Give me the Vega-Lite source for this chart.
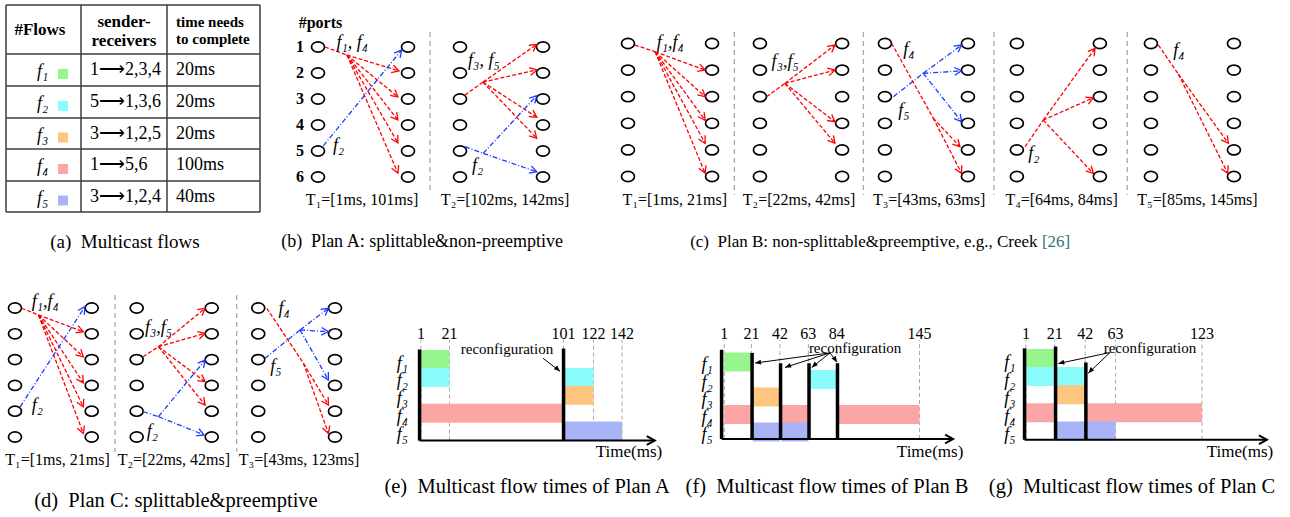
{
"$schema": "https://vega.github.io/schema/vega-lite/v6.json",
"usermeta": {"embedOptions": {"actions": false}},
"padding": 0,
"background": "white",
"spacing": 0,
"config": {"view": {"stroke": null}, "font": "Liberation Serif", "text": {"font": "Liberation Serif", "color": "black"}},
"resolve": {"scale": {"x": "independent", "y": "independent", "color": "independent", "strokeDash": "independent"}},
"datasets": {
"A_grid": [
{"x":0,"x2":3,"y":0,"y2":0},{"x":0,"x2":3,"y":1,"y2":1},{"x":0,"x2":3,"y":2,"y2":2},{"x":0,"x2":3,"y":3,"y2":3},{"x":0,"x2":3,"y":4,"y2":4},{"x":0,"x2":3,"y":5,"y2":5},{"x":0,"x2":3,"y":6,"y2":6},
{"x":0,"x2":0,"y":0,"y2":6},{"x":1,"x2":1,"y":0,"y2":6},{"x":2,"x2":2,"y":0,"y2":6},{"x":3,"x2":3,"y":0,"y2":6}],
"A_text": [
{"role":"head","x":0.453,"y":0.5,"text":"#Flows"},
{"role":"head","x":1.5,"y":0.347,"text":"sender-"},
{"role":"head","x":1.5,"y":0.735,"text":"receivers"},
{"role":"head2","x":2,"y":0.34,"text":"time needs"},
{"role":"head2","x":2,"y":0.70,"text":"to complete"},
{"role":"cap","x":1.51,"y":6.97,"text":"(a)\u00a0 Multicast flows"}],
"A_cells": [
{"kind":"label","flow":"f1","x":0.487,"y":1.5,"text":"f₁"},{"kind":"swatch","flow":"f1","x":0.76,"y":1.5},{"kind":"cell","flow":"f1","x":1,"y":1.5,"text":"1⟶2,3,4"},{"kind":"cell","flow":"f1","x":2,"y":1.5,"text":"20ms"},
{"kind":"label","flow":"f2","x":0.487,"y":2.5,"text":"f₂"},{"kind":"swatch","flow":"f2","x":0.76,"y":2.5},{"kind":"cell","flow":"f2","x":1,"y":2.5,"text":"5⟶1,3,6"},{"kind":"cell","flow":"f2","x":2,"y":2.5,"text":"20ms"},
{"kind":"label","flow":"f3","x":0.487,"y":3.5,"text":"f₃"},{"kind":"swatch","flow":"f3","x":0.76,"y":3.5},{"kind":"cell","flow":"f3","x":1,"y":3.5,"text":"3⟶1,2,5"},{"kind":"cell","flow":"f3","x":2,"y":3.5,"text":"20ms"},
{"kind":"label","flow":"f4","x":0.487,"y":4.5,"text":"f₄"},{"kind":"swatch","flow":"f4","x":0.76,"y":4.5},{"kind":"cell","flow":"f4","x":1,"y":4.5,"text":"1⟶5,6"},{"kind":"cell","flow":"f4","x":2,"y":4.5,"text":"100ms"},
{"kind":"label","flow":"f5","x":0.487,"y":5.5,"text":"f₅"},{"kind":"swatch","flow":"f5","x":0.76,"y":5.5},{"kind":"cell","flow":"f5","x":1,"y":5.5,"text":"3⟶1,2,4"},{"kind":"cell","flow":"f5","x":2,"y":5.5,"text":"40ms"}],
"B_nodes": [
{"x":1.846,"y":1},{"x":1.846,"y":2},{"x":1.846,"y":3},{"x":1.846,"y":4},{"x":1.846,"y":5},{"x":1.846,"y":6},
{"x":5.308,"y":1},{"x":5.308,"y":2},{"x":5.308,"y":3},{"x":5.308,"y":4},{"x":5.308,"y":5},{"x":5.308,"y":6},
{"x":7.308,"y":1},{"x":7.308,"y":2},{"x":7.308,"y":3},{"x":7.308,"y":4},{"x":7.308,"y":5},{"x":7.308,"y":6},
{"x":10.5,"y":1},{"x":10.5,"y":2},{"x":10.5,"y":3},{"x":10.5,"y":4},{"x":10.5,"y":5},{"x":10.5,"y":6}],
"B_sep": [{"x":6.154,"y":0.42,"y2":6.6}],
"B_edges": [
{"x":2.115,"y":1.0,"x2":2.96,"y2":1.31,"grp":"first","head":false},
{"x":2.96,"y":1.31,"x2":4.96,"y2":1.92,"grp":"first","head":true},
{"x":2.96,"y":1.31,"x2":4.92,"y2":2.92,"grp":"first","head":true},
{"x":2.96,"y":1.31,"x2":4.92,"y2":3.81,"grp":"first","head":true},
{"x":2.96,"y":1.31,"x2":4.92,"y2":4.69,"grp":"first","head":true},
{"x":2.96,"y":1.31,"x2":4.92,"y2":5.85,"grp":"first","head":true},
{"x":2.05,"y":4.80,"x2":5.06,"y2":1.12,"grp":"second","head":true},
{"x":7.5,"y":2.85,"x2":8.19,"y2":2.35,"grp":"first","head":false},
{"x":8.19,"y":2.35,"x2":10.26,"y2":0.9,"grp":"first","head":true},
{"x":8.19,"y":2.35,"x2":10.26,"y2":1.88,"grp":"first","head":true},
{"x":8.19,"y":2.35,"x2":10.26,"y2":3.7,"grp":"first","head":true},
{"x":8.19,"y":2.35,"x2":10.26,"y2":4.51,"grp":"first","head":true},
{"x":7.5,"y":4.83,"x2":8.2,"y2":5.09,"grp":"second","head":false},
{"x":8.2,"y":5.09,"x2":10.26,"y2":2.87,"grp":"second","head":true},
{"x":8.2,"y":5.09,"x2":10.26,"y2":5.8,"grp":"second","head":true}],
"B_text": [
{"role":"port","x":1.154,"y":1,"text":"1"},{"role":"port","x":1.154,"y":2,"text":"2"},{"role":"port","x":1.154,"y":3,"text":"3"},
{"role":"port","x":1.154,"y":4,"text":"4"},{"role":"port","x":1.154,"y":5,"text":"5"},{"role":"port","x":1.154,"y":6,"text":"6"},
{"role":"port","x":1.94,"y":0.08,"text":"#ports"},
{"role":"slot","x":3.54,"y":6.88,"text":"T₁=[1ms, 101ms]"},
{"role":"slot","x":9.04,"y":6.88,"text":"T₂=[102ms, 142ms]"},
{"role":"flow","x":2.56,"y":0.85,"text":"f₁, f₄"},
{"role":"flow","x":2.42,"y":4.81,"text":"f₂"},
{"role":"flow","x":7.62,"y":1.54,"text":"f₃, f₅"},
{"role":"flow","x":7.77,"y":5.58,"text":"f₂"},
{"role":"cap","x":5.85,"y":8.5,"text":"(b)\u00a0 Plan A: splittable&non-preemptive"}],
"C_nodes": [
{"x":1.24,"y":1},{"x":1.24,"y":2},{"x":1.24,"y":3},{"x":1.24,"y":4},{"x":1.24,"y":5},{"x":1.24,"y":6},
{"x":4.40,"y":1},{"x":4.40,"y":2},{"x":4.40,"y":3},{"x":4.40,"y":4},{"x":4.40,"y":5},{"x":4.40,"y":6},
{"x":6.20,"y":1},{"x":6.20,"y":2},{"x":6.20,"y":3},{"x":6.20,"y":4},{"x":6.20,"y":5},{"x":6.20,"y":6},
{"x":9.29,"y":1},{"x":9.29,"y":2},{"x":9.29,"y":3},{"x":9.29,"y":4},{"x":9.29,"y":5},{"x":9.29,"y":6},
{"x":10.90,"y":1},{"x":10.90,"y":2},{"x":10.90,"y":3},{"x":10.90,"y":4},{"x":10.90,"y":5},{"x":10.90,"y":6},
{"x":14.02,"y":1},{"x":14.02,"y":2},{"x":14.02,"y":3},{"x":14.02,"y":4},{"x":14.02,"y":5},{"x":14.02,"y":6},
{"x":15.86,"y":1},{"x":15.86,"y":2},{"x":15.86,"y":3},{"x":15.86,"y":4},{"x":15.86,"y":5},{"x":15.86,"y":6},
{"x":18.98,"y":1},{"x":18.98,"y":2},{"x":18.98,"y":3},{"x":18.98,"y":4},{"x":18.98,"y":5},{"x":18.98,"y":6},
{"x":20.90,"y":1},{"x":20.90,"y":2},{"x":20.90,"y":3},{"x":20.90,"y":4},{"x":20.90,"y":5},{"x":20.90,"y":6},
{"x":24.02,"y":1},{"x":24.02,"y":2},{"x":24.02,"y":3},{"x":24.02,"y":4},{"x":24.02,"y":5},{"x":24.02,"y":6}],
"C_sep": [{"x":5.24,"y":0.57,"y2":6.7},{"x":10.09,"y":0.57,"y2":6.7},{"x":15.0,"y":0.57,"y2":6.7},{"x":20.01,"y":0.57,"y2":6.7}],
"C_edges": [
{"x":1.5,"y":1.06,"x2":2.26,"y2":1.31,"grp":"first","head":false},
{"x":2.26,"y":1.31,"x2":4.14,"y2":2.0,"grp":"first","head":true},
{"x":2.26,"y":1.31,"x2":4.14,"y2":3.0,"grp":"first","head":true},
{"x":2.26,"y":1.31,"x2":4.14,"y2":3.88,"grp":"first","head":true},
{"x":2.26,"y":1.31,"x2":4.14,"y2":4.75,"grp":"first","head":true},
{"x":2.26,"y":1.31,"x2":4.14,"y2":5.88,"grp":"first","head":true},
{"x":6.45,"y":3.0,"x2":7.14,"y2":2.5,"grp":"first","head":false},
{"x":7.14,"y":2.5,"x2":9.02,"y2":1.06,"grp":"first","head":true},
{"x":7.14,"y":2.5,"x2":9.02,"y2":2.0,"grp":"first","head":true},
{"x":7.14,"y":2.5,"x2":9.02,"y2":3.94,"grp":"first","head":true},
{"x":7.14,"y":2.5,"x2":9.02,"y2":4.75,"grp":"first","head":true},
{"x":11.15,"y":0.99,"x2":12.71,"y2":3.8,"grp":"first","head":false},
{"x":12.71,"y":3.8,"x2":13.72,"y2":4.88,"grp":"first","head":true},
{"x":12.71,"y":3.8,"x2":13.78,"y2":5.88,"grp":"first","head":true},
{"x":11.22,"y":3.0,"x2":12.34,"y2":2.12,"grp":"second","head":false},
{"x":12.34,"y":2.12,"x2":13.78,"y2":1.06,"grp":"second","head":true},
{"x":12.34,"y":2.12,"x2":13.78,"y2":2.03,"grp":"second","head":true},
{"x":12.34,"y":2.12,"x2":13.78,"y2":3.94,"grp":"second","head":true},
{"x":16.17,"y":4.88,"x2":16.85,"y2":3.88,"grp":"first","head":false},
{"x":16.85,"y":3.88,"x2":18.8,"y2":1.18,"grp":"first","head":true},
{"x":16.85,"y":3.88,"x2":18.73,"y2":3.04,"grp":"first","head":true},
{"x":16.85,"y":3.88,"x2":18.73,"y2":5.88,"grp":"first","head":true},
{"x":21.18,"y":1.06,"x2":21.93,"y2":2.15,"grp":"first","head":false},
{"x":21.93,"y":2.15,"x2":23.81,"y2":4.75,"grp":"first","head":true},
{"x":21.93,"y":2.15,"x2":23.79,"y2":5.88,"grp":"first","head":true}],
"C_text": [
{"role":"slot","x":3.0,"y":6.88,"text":"T₁=[1ms, 21ms]"},
{"role":"slot","x":7.67,"y":6.88,"text":"T₂=[22ms, 42ms]"},
{"role":"slot","x":12.56,"y":6.88,"text":"T₃=[43ms, 63ms]"},
{"role":"slot","x":17.54,"y":6.88,"text":"T₄=[64ms, 84ms]"},
{"role":"slot","x":22.65,"y":6.88,"text":"T₅=[85ms, 145ms]"},
{"role":"flow","x":2.32,"y":0.99,"text":"f₁,f₄"},
{"role":"flow","x":6.64,"y":1.68,"text":"f₃,f₅"},
{"role":"flow","x":11.59,"y":1.24,"text":"f₄"},
{"role":"flow","x":11.4,"y":3.54,"text":"f₅"},
{"role":"flow","x":16.29,"y":5.15,"text":"f₂"},
{"role":"flow","x":21.74,"y":1.28,"text":"f₄"},
{"role":"cap","x":16.64,"y":8.46,"text":"(c)\u00a0 Plan B: non-splittable&preemptive, e.g., Creek"},
{"role":"cite","x":16.8,"y":8.46,"text":"[26]"}],
"D_nodes": [
{"x":0.581,"y":1},{"x":0.581,"y":2},{"x":0.581,"y":3},{"x":0.581,"y":4},{"x":0.581,"y":5},{"x":0.581,"y":6},
{"x":3.554,"y":1},{"x":3.554,"y":2},{"x":3.554,"y":3},{"x":3.554,"y":4},{"x":3.554,"y":5},{"x":3.554,"y":6},
{"x":5.298,"y":1},{"x":5.298,"y":2},{"x":5.298,"y":3},{"x":5.298,"y":4},{"x":5.298,"y":5},{"x":5.298,"y":6},
{"x":8.205,"y":1},{"x":8.205,"y":2},{"x":8.205,"y":3},{"x":8.205,"y":4},{"x":8.205,"y":5},{"x":8.205,"y":6},
{"x":10.01,"y":1},{"x":10.01,"y":2},{"x":10.01,"y":3},{"x":10.01,"y":4},{"x":10.01,"y":5},{"x":10.01,"y":6},
{"x":12.984,"y":1},{"x":12.984,"y":2},{"x":12.984,"y":3},{"x":12.984,"y":4},{"x":12.984,"y":5},{"x":12.984,"y":6}],
"D_sep": [{"x":4.457,"y":0.5,"y2":6.57},{"x":9.174,"y":0.5,"y2":6.57}],
"D_edges": [
{"x":0.84,"y":1.01,"x2":1.49,"y2":1.27,"grp":"first","head":false},
{"x":1.49,"y":1.27,"x2":3.23,"y2":1.92,"grp":"first","head":true},
{"x":1.49,"y":1.27,"x2":3.23,"y2":2.89,"grp":"first","head":true},
{"x":1.49,"y":1.27,"x2":3.23,"y2":3.9,"grp":"first","head":true},
{"x":1.49,"y":1.27,"x2":3.23,"y2":4.83,"grp":"first","head":true},
{"x":1.49,"y":1.27,"x2":3.23,"y2":5.86,"grp":"first","head":true},
{"x":0.78,"y":4.83,"x2":3.29,"y2":0.95,"grp":"second","head":true},
{"x":5.55,"y":2.89,"x2":6.14,"y2":2.5,"grp":"first","head":false},
{"x":6.14,"y":2.5,"x2":7.95,"y2":1.01,"grp":"first","head":true},
{"x":6.14,"y":2.5,"x2":7.95,"y2":1.98,"grp":"first","head":true},
{"x":6.14,"y":2.5,"x2":7.95,"y2":3.86,"grp":"first","head":true},
{"x":6.14,"y":2.5,"x2":7.95,"y2":4.76,"grp":"first","head":true},
{"x":5.55,"y":5.02,"x2":6.14,"y2":5.21,"grp":"second","head":false},
{"x":6.14,"y":5.21,"x2":7.95,"y2":3.02,"grp":"second","head":true},
{"x":6.14,"y":5.21,"x2":7.91,"y2":5.92,"grp":"second","head":true},
{"x":10.34,"y":1.01,"x2":11.76,"y2":3.14,"grp":"first","head":false},
{"x":11.76,"y":3.14,"x2":12.73,"y2":4.76,"grp":"first","head":true},
{"x":11.76,"y":3.14,"x2":12.73,"y2":5.86,"grp":"first","head":true},
{"x":10.27,"y":2.95,"x2":11.63,"y2":1.85,"grp":"second","head":false},
{"x":11.63,"y":1.85,"x2":12.73,"y2":1.01,"grp":"second","head":true},
{"x":11.63,"y":1.85,"x2":12.73,"y2":1.92,"grp":"second","head":true},
{"x":11.63,"y":1.85,"x2":12.73,"y2":3.79,"grp":"second","head":true}],
"D_text": [
{"role":"slot","x":2.23,"y":6.89,"text":"T₁=[1ms, 21ms]"},
{"role":"slot","x":6.74,"y":6.89,"text":"T₂=[22ms, 42ms]"},
{"role":"slot","x":11.59,"y":6.89,"text":"T₃=[43ms, 123ms]"},
{"role":"flow","x":1.23,"y":0.77,"text":"f₁,f₄"},
{"role":"flow","x":1.23,"y":4.8,"text":"f₂"},
{"role":"flow","x":5.62,"y":1.79,"text":"f₃,f₅"},
{"role":"flow","x":5.69,"y":5.79,"text":"f₂"},
{"role":"flow","x":10.79,"y":1.04,"text":"f₄"},
{"role":"flow","x":10.47,"y":3.28,"text":"f₅"},
{"role":"cap","x":6.82,"y":8.48,"text":"(d)\u00a0 Plan C: splittable&preemptive"}],
"E_grid": [{"ms":1,"lane":0.47,"lane2":6.1},{"ms":21,"lane":0.47,"lane2":6.1},{"ms":101,"lane":0.47,"lane2":6.1},{"ms":122,"lane":0.47,"lane2":6.1},{"ms":142,"lane":0.47,"lane2":6.1}],
"E_bars": [
{"flow":"f1","ms":1,"ms2":21,"lane":5},{"flow":"f2","ms":1,"ms2":21,"lane":4},{"flow":"f4","ms":1,"ms2":101,"lane":2},
{"flow":"f2","ms":102,"ms2":122,"lane":4},{"flow":"f3","ms":102,"ms2":122,"lane":3},{"flow":"f5","ms":102,"ms2":142,"lane":1}],
"E_rules": [{"ms":0,"lane":0.47,"lane2":5.56},{"ms":101,"lane":0.47,"lane2":5.61}],
"E_axis": [{"ms":0,"ms2":165,"lane":0.47}],
"E_arrows": [{"ms":86.6,"lane":5.07,"ms2":98.5,"lane2":4.34}],
"E_text": [
{"role":"tick","ms":1,"lane":6.45,"text":"1"},{"role":"tick","ms":21,"lane":6.45,"text":"21"},{"role":"tick","ms":101,"lane":6.45,"text":"101"},
{"role":"tick","ms":122,"lane":6.45,"text":"122"},{"role":"tick","ms":142,"lane":6.45,"text":"142"},
{"role":"flow","ms":-12,"lane":5,"text":"f₁"},{"role":"flow","ms":-12,"lane":4,"text":"f₂"},{"role":"flow","ms":-12,"lane":3,"text":"f₃"},
{"role":"flow","ms":-12,"lane":2,"text":"f₄"},{"role":"flow","ms":-12,"lane":1,"text":"f₅"},
{"role":"recon","ms":61.3,"lane":5.56,"text":"reconfiguration"},
{"role":"time","ms":146.9,"lane":-0.17,"text":"Time(ms)"},
{"role":"cap","ms":75.4,"lane":-2.13,"text":"(e)\u00a0 Multicast flow times of Plan A"}],
"F_grid": [{"ms":1,"lane":0.6,"lane2":6.25},{"ms":21,"lane":0.6,"lane2":6.25},{"ms":42,"lane":0.6,"lane2":6.25},{"ms":63,"lane":0.6,"lane2":6.25},{"ms":84,"lane":0.6,"lane2":6.25},{"ms":145,"lane":0.6,"lane2":6.25}],
"F_bars": [
{"flow":"f1","ms":1,"ms2":21,"lane":5},{"flow":"f4","ms":1,"ms2":21,"lane":2},
{"flow":"f3","ms":22,"ms2":42,"lane":3},{"flow":"f5","ms":22,"ms2":42,"lane":1},
{"flow":"f4","ms":43,"ms2":63,"lane":2},{"flow":"f5","ms":43,"ms2":63,"lane":1},
{"flow":"f2","ms":64,"ms2":84,"lane":4},{"flow":"f4","ms":85,"ms2":145,"lane":2}],
"F_rules": [{"ms":-1,"lane":0.6,"lane2":5.7},{"ms":21.5,"lane":0.6,"lane2":5.52},{"ms":42.5,"lane":0.6,"lane2":4.93},{"ms":63.5,"lane":0.6,"lane2":4.93},{"ms":84.5,"lane":0.6,"lane2":4.93}],
"F_axis": [{"ms":-1,"ms2":169.8,"lane":0.6}],
"F_arrows": [
{"ms":79.0,"lane":5.52,"ms2":23.7,"lane2":4.94},{"ms":79.0,"lane":5.52,"ms2":45.8,"lane2":4.69},
{"ms":79.0,"lane":5.52,"ms2":65.5,"lane2":4.69},{"ms":79.0,"lane":5.52,"ms2":84.0,"lane2":4.99}],
"F_text": [
{"role":"tick","ms":1,"lane":6.6,"text":"1"},{"role":"tick","ms":21,"lane":6.6,"text":"21"},{"role":"tick","ms":42,"lane":6.6,"text":"42"},
{"role":"tick","ms":63,"lane":6.6,"text":"63"},{"role":"tick","ms":84,"lane":6.6,"text":"84"},{"role":"tick","ms":145,"lane":6.6,"text":"145"},
{"role":"flow","ms":-11.75,"lane":5,"text":"f₁"},{"role":"flow","ms":-11.75,"lane":4,"text":"f₂"},{"role":"flow","ms":-11.75,"lane":3,"text":"f₃"},
{"role":"flow","ms":-11.75,"lane":2,"text":"f₄"},{"role":"flow","ms":-11.75,"lane":1,"text":"f₅"},
{"role":"recon","ms":97.5,"lane":5.8,"text":"reconfiguration"},
{"role":"time","ms":152.8,"lane":-0.15,"text":"Time(ms)"},
{"role":"cap","ms":76.8,"lane":-2.15,"text":"(f)\u00a0 Multicast flow times of Plan B"}],
"G_grid": [{"ms":1,"lane":0.51,"lane2":6.04},{"ms":21,"lane":0.51,"lane2":6.04},{"ms":42,"lane":0.51,"lane2":6.04},{"ms":63,"lane":0.51,"lane2":6.04},{"ms":123,"lane":0.51,"lane2":6.04}],
"G_bars": [
{"flow":"f1","ms":1,"ms2":21,"lane":5},{"flow":"f2","ms":1,"ms2":21,"lane":4},{"flow":"f4","ms":1,"ms2":21,"lane":2},
{"flow":"f2","ms":22,"ms2":42,"lane":4},{"flow":"f3","ms":22,"ms2":42,"lane":3},{"flow":"f5","ms":22,"ms2":42,"lane":1},
{"flow":"f4","ms":43,"ms2":123,"lane":2},{"flow":"f5","ms":43,"ms2":63,"lane":1}],
"G_rules": [{"ms":0,"lane":0.51,"lane2":5.56},{"ms":21.5,"lane":0.51,"lane2":5.66},{"ms":42.5,"lane":0.51,"lane2":4.78}],
"G_axis": [{"ms":0,"ms2":168,"lane":0.51}],
"G_arrows": [{"ms":59.2,"lane":5.33,"ms2":23.4,"lane2":4.72},{"ms":59.2,"lane":5.33,"ms2":44.2,"lane2":4.19}],
"G_text": [
{"role":"tick","ms":1,"lane":6.38,"text":"1"},{"role":"tick","ms":21,"lane":6.38,"text":"21"},{"role":"tick","ms":42,"lane":6.38,"text":"42"},
{"role":"tick","ms":63,"lane":6.38,"text":"63"},{"role":"tick","ms":123,"lane":6.38,"text":"123"},
{"role":"flow","ms":-10.1,"lane":5,"text":"f₁"},{"role":"flow","ms":-10.1,"lane":4,"text":"f₂"},{"role":"flow","ms":-10.1,"lane":3,"text":"f₃"},
{"role":"flow","ms":-10.1,"lane":2,"text":"f₄"},{"role":"flow","ms":-10.1,"lane":1,"text":"f₅"},
{"role":"recon","ms":86.9,"lane":5.6,"text":"reconfiguration"},
{"role":"time","ms":149.3,"lane":-0.17,"text":"Time(ms)"},
{"role":"cap","ms":74.5,"lane":-2.11,"text":"(g)\u00a0 Multicast flow times of Plan C"}]
},
"vconcat": [
{"hconcat": [
{"width": 270, "height": 262,
 "encoding": {"x": {"field":"x","type":"quantitative","scale":{"domain":[0,1,2,3],"range":[6,81,167,260],"zero":false,"nice":false},"axis":null},
              "y": {"field":"y","type":"quantitative","scale":{"domain":[0,1,2,3,4,5,6],"range":[5,54,86,118,149,181,212],"zero":false,"nice":false},"axis":null}},
 "layer": [
  {"data":{"name":"A_grid"},"mark":{"type":"rule","color":"#3c3c3c","strokeWidth":1.5},"encoding":{"x2":{"field":"x2"},"y2":{"field":"y2"}}},
  {"data":{"name":"A_text"},"transform":[{"filter":"datum.role=='head'"}],"mark":{"type":"text","fontSize":17,"fontWeight":"bold","align":"center","baseline":"middle"},"encoding":{"text":{"field":"text"}}},
  {"data":{"name":"A_text"},"transform":[{"filter":"datum.role=='head2'"}],"mark":{"type":"text","fontSize":15,"fontWeight":"bold","align":"left","baseline":"middle","dx":9},"encoding":{"text":{"field":"text"}}},
  {"data":{"name":"A_cells"},"transform":[{"filter":"datum.kind=='label'"}],"mark":{"type":"text","fontSize":18,"fontStyle":"italic","align":"center","baseline":"middle","dy":2},"encoding":{"text":{"field":"text"}}},
  {"data":{"name":"A_cells"},"transform":[{"filter":"datum.kind=='swatch'"}],"mark":{"type":"point","shape":"square","size":100,"filled":true,"opacity":1,"yOffset":4},"encoding":{"color":{"field":"flow","type":"nominal","scale":{"domain":["f1","f2","f3","f4","f5"],"range":["#96f58c","#8afcfc","#fdc57f","#fca5a5","#a9b4f7"]},"legend":null}}},
  {"data":{"name":"A_cells"},"transform":[{"filter":"datum.kind=='cell'"}],"mark":{"type":"text","fontSize":18,"align":"left","baseline":"middle","dx":9},"encoding":{"text":{"field":"text"}}},
  {"data":{"name":"A_text"},"transform":[{"filter":"datum.role=='cap'"}],"mark":{"type":"text","fontSize":19,"align":"center","baseline":"middle"},"encoding":{"text":{"field":"text"}}}
 ]},
{"width": 325, "height": 262,
 "encoding": {"x": {"field":"x","type":"quantitative","scale":{"domain":[0,10],"range":[0,260],"zero":false,"nice":false},"axis":null},
              "y": {"field":"y","type":"quantitative","scale":{"domain":[1,6],"range":[47,177],"zero":false,"nice":false},"axis":null}},
 "layer": [
  {"data":{"name":"B_sep"},"mark":{"type":"rule","color":"#a8a8a8","strokeWidth":1.3,"strokeDash":[5,4]},"encoding":{"y2":{"field":"y2"}}},
  {"data":{"name":"B_nodes"},"mark":{"type":"point","shape":"M-1,0A1,0.78,0,1,1,1,0A1,0.78,0,1,1,-1,0Z","size":169,"filled":false,"color":"black","strokeWidth":1.7,"opacity":1}},
  {"data":{"name":"B_edges"},"mark":{"type":"rule","strokeWidth":1.3},"encoding":{"x2":{"field":"x2"},"y2":{"field":"y2"},
     "color":{"field":"grp","type":"nominal","scale":{"domain":["first","second"],"range":["#ff0000","#1a3cff"]},"legend":null},
     "strokeDash":{"field":"grp","type":"nominal","scale":{"domain":["first","second"],"range":[[4,2],[5,2,1,2]]},"legend":null}}},
  {"data":{"name":"B_edges"},"transform":[{"filter":"datum.head"},{"calculate":"atan2(datum.y2-datum.y, datum.x2-datum.x)*180/PI","as":"ang"}],
   "mark":{"type":"point","shape":"M-1,-0.55L0,0L-1,0.55","size":196,"filled":false,"strokeWidth":1.3,"opacity":1},
   "encoding":{"x":{"field":"x2","type":"quantitative","scale":{"domain":[0,10],"range":[0,260],"zero":false,"nice":false},"axis":null},
               "y":{"field":"y2","type":"quantitative","scale":{"domain":[1,6],"range":[47,177],"zero":false,"nice":false},"axis":null},
               "angle":{"field":"ang","type":"quantitative","scale":null},
               "color":{"field":"grp","type":"nominal","scale":{"domain":["first","second"],"range":["#ff0000","#1a3cff"]},"legend":null}}},
  {"data":{"name":"B_text"},"transform":[{"filter":"datum.role=='port'"}],"mark":{"type":"text","fontSize":16,"fontWeight":"bold","align":"center","baseline":"middle"},"encoding":{"text":{"field":"text"}}},
  {"data":{"name":"B_text"},"transform":[{"filter":"datum.role=='flow'"}],"mark":{"type":"text","fontSize":18,"fontStyle":"italic","align":"left","baseline":"middle"},"encoding":{"text":{"field":"text"}}},
  {"data":{"name":"B_text"},"transform":[{"filter":"datum.role=='slot'"}],"mark":{"type":"text","fontSize":16,"align":"center","baseline":"middle"},"encoding":{"text":{"field":"text"}}},
  {"data":{"name":"B_text"},"transform":[{"filter":"datum.role=='cap'"}],"mark":{"type":"text","fontSize":18,"align":"center","baseline":"middle"},"encoding":{"text":{"field":"text"}}}
 ]},
{"width": 695, "height": 262,
 "encoding": {"x": {"field":"x","type":"quantitative","scale":{"domain":[0,10],"range":[0,266],"zero":false,"nice":false},"axis":null},
              "y": {"field":"y","type":"quantitative","scale":{"domain":[1,6],"range":[43.5,176.5],"zero":false,"nice":false},"axis":null}},
 "layer": [
  {"data":{"name":"C_sep"},"mark":{"type":"rule","color":"#a8a8a8","strokeWidth":1.3,"strokeDash":[5,4]},"encoding":{"y2":{"field":"y2"}}},
  {"data":{"name":"C_nodes"},"mark":{"type":"point","shape":"M-1,0A1,0.78,0,1,1,1,0A1,0.78,0,1,1,-1,0Z","size":169,"filled":false,"color":"black","strokeWidth":1.7,"opacity":1}},
  {"data":{"name":"C_edges"},"mark":{"type":"rule","strokeWidth":1.3},"encoding":{"x2":{"field":"x2"},"y2":{"field":"y2"},
     "color":{"field":"grp","type":"nominal","scale":{"domain":["first","second"],"range":["#ff0000","#1a3cff"]},"legend":null},
     "strokeDash":{"field":"grp","type":"nominal","scale":{"domain":["first","second"],"range":[[4,2],[5,2,1,2]]},"legend":null}}},
  {"data":{"name":"C_edges"},"transform":[{"filter":"datum.head"},{"calculate":"atan2(datum.y2-datum.y, datum.x2-datum.x)*180/PI","as":"ang"}],
   "mark":{"type":"point","shape":"M-1,-0.55L0,0L-1,0.55","size":196,"filled":false,"strokeWidth":1.3,"opacity":1},
   "encoding":{"x":{"field":"x2","type":"quantitative","scale":{"domain":[0,10],"range":[0,266],"zero":false,"nice":false},"axis":null},
               "y":{"field":"y2","type":"quantitative","scale":{"domain":[1,6],"range":[43.5,176.5],"zero":false,"nice":false},"axis":null},
               "angle":{"field":"ang","type":"quantitative","scale":null},
               "color":{"field":"grp","type":"nominal","scale":{"domain":["first","second"],"range":["#ff0000","#1a3cff"]},"legend":null}}},
  {"data":{"name":"C_text"},"transform":[{"filter":"datum.role=='flow'"}],"mark":{"type":"text","fontSize":18,"fontStyle":"italic","align":"left","baseline":"middle"},"encoding":{"text":{"field":"text"}}},
  {"data":{"name":"C_text"},"transform":[{"filter":"datum.role=='slot'"}],"mark":{"type":"text","fontSize":16,"align":"center","baseline":"middle"},"encoding":{"text":{"field":"text"}}},
  {"data":{"name":"C_text"},"transform":[{"filter":"datum.role=='cap'"}],"mark":{"type":"text","fontSize":17,"align":"right","baseline":"middle"},"encoding":{"text":{"field":"text"}}},
  {"data":{"name":"C_text"},"transform":[{"filter":"datum.role=='cite'"}],"mark":{"type":"text","fontSize":17,"align":"left","baseline":"middle","color":"#2f7373"},"encoding":{"text":{"field":"text"}}}
 ]}
], "spacing": 0, "bounds": "flush",
 "resolve": {"scale": {"x": "independent", "y": "independent", "color": "independent", "strokeDash": "independent"}}},
{"hconcat": [
{"width": 378, "height": 255,
 "encoding": {"x": {"field":"x","type":"quantitative","scale":{"domain":[0,10],"range":[0,258],"zero":false,"nice":false},"axis":null},
              "y": {"field":"y","type":"quantitative","scale":{"domain":[1,6],"range":[46,175],"zero":false,"nice":false},"axis":null}},
 "layer": [
  {"data":{"name":"D_sep"},"mark":{"type":"rule","color":"#a8a8a8","strokeWidth":1.3,"strokeDash":[5,4]},"encoding":{"y2":{"field":"y2"}}},
  {"data":{"name":"D_nodes"},"mark":{"type":"point","shape":"M-1,0A1,0.78,0,1,1,1,0A1,0.78,0,1,1,-1,0Z","size":169,"filled":false,"color":"black","strokeWidth":1.7,"opacity":1}},
  {"data":{"name":"D_edges"},"mark":{"type":"rule","strokeWidth":1.3},"encoding":{"x2":{"field":"x2"},"y2":{"field":"y2"},
     "color":{"field":"grp","type":"nominal","scale":{"domain":["first","second"],"range":["#ff0000","#1a3cff"]},"legend":null},
     "strokeDash":{"field":"grp","type":"nominal","scale":{"domain":["first","second"],"range":[[4,2],[5,2,1,2]]},"legend":null}}},
  {"data":{"name":"D_edges"},"transform":[{"filter":"datum.head"},{"calculate":"atan2(datum.y2-datum.y, datum.x2-datum.x)*180/PI","as":"ang"}],
   "mark":{"type":"point","shape":"M-1,-0.55L0,0L-1,0.55","size":196,"filled":false,"strokeWidth":1.3,"opacity":1},
   "encoding":{"x":{"field":"x2","type":"quantitative","scale":{"domain":[0,10],"range":[0,258],"zero":false,"nice":false},"axis":null},
               "y":{"field":"y2","type":"quantitative","scale":{"domain":[1,6],"range":[46,175],"zero":false,"nice":false},"axis":null},
               "angle":{"field":"ang","type":"quantitative","scale":null},
               "color":{"field":"grp","type":"nominal","scale":{"domain":["first","second"],"range":["#ff0000","#1a3cff"]},"legend":null}}},
  {"data":{"name":"D_text"},"transform":[{"filter":"datum.role=='flow'"}],"mark":{"type":"text","fontSize":18,"fontStyle":"italic","align":"left","baseline":"middle"},"encoding":{"text":{"field":"text"}}},
  {"data":{"name":"D_text"},"transform":[{"filter":"datum.role=='slot'"}],"mark":{"type":"text","fontSize":16,"align":"center","baseline":"middle"},"encoding":{"text":{"field":"text"}}},
  {"data":{"name":"D_text"},"transform":[{"filter":"datum.role=='cap'"}],"mark":{"type":"text","fontSize":20.5,"align":"center","baseline":"middle"},"encoding":{"text":{"field":"text"}}}
 ]},
{"width": 304, "height": 255,
 "encoding": {"x": {"field":"ms","type":"quantitative","scale":{"domain":[1,142],"range":[43,244],"zero":false,"nice":false},"axis":null},
              "y": {"field":"lane","type":"quantitative","scale":{"domain":[1,5],"range":[174.1,92.5],"zero":false,"nice":false},"axis":null}},
 "layer": [
  {"data":{"name":"E_grid"},"mark":{"type":"rule","color":"#a8a8a8","strokeWidth":1,"strokeDash":[4,3]},"encoding":{"y2":{"field":"lane2"}}},
  {"data":{"name":"E_bars"},"mark":{"type":"bar","orient":"horizontal","height":19,"opacity":1},"encoding":{"x2":{"field":"ms2"},
     "color":{"field":"flow","type":"nominal","scale":{"domain":["f1","f2","f3","f4","f5"],"range":["#96f58c","#8afcfc","#fdc57f","#fca5a5","#a9b4f7"]},"legend":null}}},
  {"data":{"name":"E_rules"},"mark":{"type":"rule","color":"black","strokeWidth":3.5},"encoding":{"y2":{"field":"lane2"}}},
  {"data":{"name":"E_axis"},"mark":{"type":"rule","color":"black","strokeWidth":2},"encoding":{"x2":{"field":"ms2"}}},
  {"data":{"name":"E_axis"},"mark":{"type":"point","shape":"M-1,-0.55L0,0L-1,0.55","size":256,"filled":false,"color":"black","strokeWidth":2,"opacity":1},
   "encoding":{"x":{"field":"ms2","type":"quantitative","scale":{"domain":[1,142],"range":[43,244],"zero":false,"nice":false},"axis":null}}},
  {"data":{"name":"E_arrows"},"mark":{"type":"rule","color":"black","strokeWidth":1},"encoding":{"x2":{"field":"ms2"},"y2":{"field":"lane2"}}},
  {"data":{"name":"E_arrows"},"transform":[{"calculate":"atan2(-(datum.lane2-datum.lane)*20.4, (datum.ms2-datum.ms)*1.4255)*180/PI","as":"ang"}],
   "mark":{"type":"point","shape":"M-1,-0.4L0,0L-1,0.4Z","size":144,"filled":true,"color":"black","opacity":1},
   "encoding":{"x":{"field":"ms2","type":"quantitative","scale":{"domain":[1,142],"range":[43,244],"zero":false,"nice":false},"axis":null},
               "y":{"field":"lane2","type":"quantitative","scale":{"domain":[1,5],"range":[174.1,92.5],"zero":false,"nice":false},"axis":null},
               "angle":{"field":"ang","type":"quantitative","scale":null}}},
  {"data":{"name":"E_text"},"transform":[{"filter":"datum.role=='tick'"}],"mark":{"type":"text","fontSize":16,"align":"center","baseline":"middle"},"encoding":{"text":{"field":"text"}}},
  {"data":{"name":"E_text"},"transform":[{"filter":"datum.role=='flow'"}],"mark":{"type":"text","fontSize":18,"fontStyle":"italic","align":"center","baseline":"middle","dy":4},"encoding":{"text":{"field":"text"}}},
  {"data":{"name":"E_text"},"transform":[{"filter":"datum.role=='recon'"}],"mark":{"type":"text","fontSize":15,"align":"center","baseline":"middle"},"encoding":{"text":{"field":"text"}}},
  {"data":{"name":"E_text"},"transform":[{"filter":"datum.role=='time'"}],"mark":{"type":"text","fontSize":17,"align":"center","baseline":"middle"},"encoding":{"text":{"field":"text"}}},
  {"data":{"name":"E_text"},"transform":[{"filter":"datum.role=='cap'"}],"mark":{"type":"text","fontSize":20.5,"align":"center","baseline":"middle"},"encoding":{"text":{"field":"text"}}}
 ]},
{"width": 300, "height": 255,
 "encoding": {"x": {"field":"ms","type":"quantitative","scale":{"domain":[1,145],"range":[42.3,237.5],"zero":false,"nice":false},"axis":null},
              "y": {"field":"lane","type":"quantitative","scale":{"domain":[1,5],"range":[175,95],"zero":false,"nice":false},"axis":null}},
 "layer": [
  {"data":{"name":"F_grid"},"mark":{"type":"rule","color":"#a8a8a8","strokeWidth":1,"strokeDash":[4,3]},"encoding":{"y2":{"field":"lane2"}}},
  {"data":{"name":"F_bars"},"mark":{"type":"bar","orient":"horizontal","height":19,"opacity":1},"encoding":{"x2":{"field":"ms2"},
     "color":{"field":"flow","type":"nominal","scale":{"domain":["f1","f2","f3","f4","f5"],"range":["#96f58c","#8afcfc","#fdc57f","#fca5a5","#a9b4f7"]},"legend":null}}},
  {"data":{"name":"F_rules"},"mark":{"type":"rule","color":"black","strokeWidth":3.5},"encoding":{"y2":{"field":"lane2"}}},
  {"data":{"name":"F_axis"},"mark":{"type":"rule","color":"black","strokeWidth":2},"encoding":{"x2":{"field":"ms2"}}},
  {"data":{"name":"F_axis"},"mark":{"type":"point","shape":"M-1,-0.55L0,0L-1,0.55","size":256,"filled":false,"color":"black","strokeWidth":2,"opacity":1},
   "encoding":{"x":{"field":"ms2","type":"quantitative","scale":{"domain":[1,145],"range":[42.3,237.5],"zero":false,"nice":false},"axis":null}}},
  {"data":{"name":"F_arrows"},"mark":{"type":"rule","color":"black","strokeWidth":1},"encoding":{"x2":{"field":"ms2"},"y2":{"field":"lane2"}}},
  {"data":{"name":"F_arrows"},"transform":[{"calculate":"atan2(-(datum.lane2-datum.lane)*20, (datum.ms2-datum.ms)*1.3552)*180/PI","as":"ang"}],
   "mark":{"type":"point","shape":"M-1,-0.4L0,0L-1,0.4Z","size":144,"filled":true,"color":"black","opacity":1},
   "encoding":{"x":{"field":"ms2","type":"quantitative","scale":{"domain":[1,145],"range":[42.3,237.5],"zero":false,"nice":false},"axis":null},
               "y":{"field":"lane2","type":"quantitative","scale":{"domain":[1,5],"range":[175,95],"zero":false,"nice":false},"axis":null},
               "angle":{"field":"ang","type":"quantitative","scale":null}}},
  {"data":{"name":"F_text"},"transform":[{"filter":"datum.role=='tick'"}],"mark":{"type":"text","fontSize":16,"align":"center","baseline":"middle"},"encoding":{"text":{"field":"text"}}},
  {"data":{"name":"F_text"},"transform":[{"filter":"datum.role=='flow'"}],"mark":{"type":"text","fontSize":18,"fontStyle":"italic","align":"center","baseline":"middle","dy":3},"encoding":{"text":{"field":"text"}}},
  {"data":{"name":"F_text"},"transform":[{"filter":"datum.role=='recon'"}],"mark":{"type":"text","fontSize":15,"align":"center","baseline":"middle"},"encoding":{"text":{"field":"text"}}},
  {"data":{"name":"F_text"},"transform":[{"filter":"datum.role=='time'"}],"mark":{"type":"text","fontSize":17,"align":"center","baseline":"middle"},"encoding":{"text":{"field":"text"}}},
  {"data":{"name":"F_text"},"transform":[{"filter":"datum.role=='cap'"}],"mark":{"type":"text","fontSize":20.5,"align":"center","baseline":"middle"},"encoding":{"text":{"field":"text"}}}
 ]},
{"width": 308, "height": 255,
 "encoding": {"x": {"field":"ms","type":"quantitative","scale":{"domain":[1,123],"range":[44,220],"zero":false,"nice":false},"axis":null},
              "y": {"field":"lane","type":"quantitative","scale":{"domain":[1,5],"range":[173.9,91.5],"zero":false,"nice":false},"axis":null}},
 "layer": [
  {"data":{"name":"G_grid"},"mark":{"type":"rule","color":"#a8a8a8","strokeWidth":1,"strokeDash":[4,3]},"encoding":{"y2":{"field":"lane2"}}},
  {"data":{"name":"G_bars"},"mark":{"type":"bar","orient":"horizontal","height":19,"opacity":1},"encoding":{"x2":{"field":"ms2"},
     "color":{"field":"flow","type":"nominal","scale":{"domain":["f1","f2","f3","f4","f5"],"range":["#96f58c","#8afcfc","#fdc57f","#fca5a5","#a9b4f7"]},"legend":null}}},
  {"data":{"name":"G_rules"},"mark":{"type":"rule","color":"black","strokeWidth":3.5},"encoding":{"y2":{"field":"lane2"}}},
  {"data":{"name":"G_axis"},"mark":{"type":"rule","color":"black","strokeWidth":2},"encoding":{"x2":{"field":"ms2"}}},
  {"data":{"name":"G_axis"},"mark":{"type":"point","shape":"M-1,-0.55L0,0L-1,0.55","size":256,"filled":false,"color":"black","strokeWidth":2,"opacity":1},
   "encoding":{"x":{"field":"ms2","type":"quantitative","scale":{"domain":[1,123],"range":[44,220],"zero":false,"nice":false},"axis":null}}},
  {"data":{"name":"G_arrows"},"mark":{"type":"rule","color":"black","strokeWidth":1},"encoding":{"x2":{"field":"ms2"},"y2":{"field":"lane2"}}},
  {"data":{"name":"G_arrows"},"transform":[{"calculate":"atan2(-(datum.lane2-datum.lane)*20.6, (datum.ms2-datum.ms)*1.443)*180/PI","as":"ang"}],
   "mark":{"type":"point","shape":"M-1,-0.4L0,0L-1,0.4Z","size":144,"filled":true,"color":"black","opacity":1},
   "encoding":{"x":{"field":"ms2","type":"quantitative","scale":{"domain":[1,123],"range":[44,220],"zero":false,"nice":false},"axis":null},
               "y":{"field":"lane2","type":"quantitative","scale":{"domain":[1,5],"range":[173.9,91.5],"zero":false,"nice":false},"axis":null},
               "angle":{"field":"ang","type":"quantitative","scale":null}}},
  {"data":{"name":"G_text"},"transform":[{"filter":"datum.role=='tick'"}],"mark":{"type":"text","fontSize":16,"align":"center","baseline":"middle"},"encoding":{"text":{"field":"text"}}},
  {"data":{"name":"G_text"},"transform":[{"filter":"datum.role=='flow'"}],"mark":{"type":"text","fontSize":18,"fontStyle":"italic","align":"center","baseline":"middle","dy":4},"encoding":{"text":{"field":"text"}}},
  {"data":{"name":"G_text"},"transform":[{"filter":"datum.role=='recon'"}],"mark":{"type":"text","fontSize":15,"align":"center","baseline":"middle"},"encoding":{"text":{"field":"text"}}},
  {"data":{"name":"G_text"},"transform":[{"filter":"datum.role=='time'"}],"mark":{"type":"text","fontSize":17,"align":"center","baseline":"middle"},"encoding":{"text":{"field":"text"}}},
  {"data":{"name":"G_text"},"transform":[{"filter":"datum.role=='cap'"}],"mark":{"type":"text","fontSize":20.5,"align":"center","baseline":"middle"},"encoding":{"text":{"field":"text"}}}
 ]}
], "spacing": 0, "bounds": "flush",
 "resolve": {"scale": {"x": "independent", "y": "independent", "color": "independent", "strokeDash": "independent"}}}
]
}
